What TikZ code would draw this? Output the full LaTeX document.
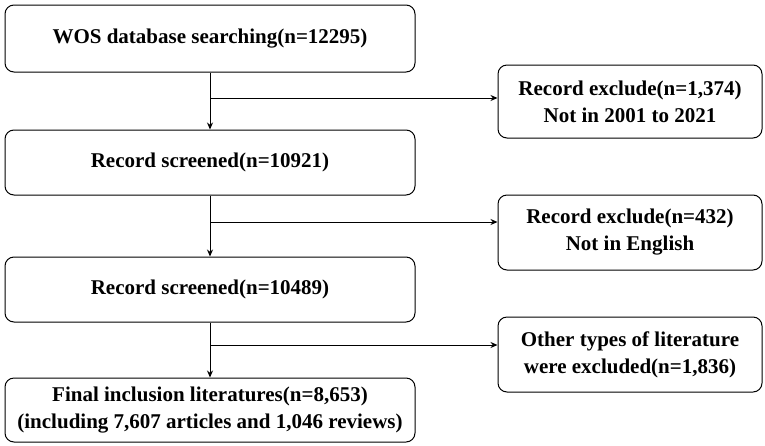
\documentclass[tikz,border=0pt]{standalone}
\usepackage{fontspec}
\setmainfont{Liberation Serif}
\usetikzlibrary{arrows.meta}
\begin{document}
\begin{tikzpicture}[x=1pt,y=-1pt,
  box/.style={draw,line width=1pt,rounded corners=9pt,align=center,font=\fontsize{21}{27}\selectfont\bfseries,inner sep=0pt},
  arr/.style={line width=1pt,-{Stealth[length=7pt,width=6pt]}}]
\useasboundingbox (0,0) rectangle (765,445);
\node[box,minimum width=410,minimum height=67] (b1) at (210,38.5) {WOS database searching(n=12295)};
\node[box,minimum width=410,minimum height=65] (b2) at (210,162.5) {Record screened(n=10921)};
\node[box,minimum width=410,minimum height=65] (b3) at (210,289.5) {Record screened(n=10489)};
\node[box,minimum width=410,minimum height=64] (b4) at (210,410) {Final inclusion literatures(n=8,653)\\(including 7,607 articles and 1,046 reviews)};
\node[box,minimum width=264,minimum height=73] (r1) at (630,101.5) {Record exclude(n=1,374)\\Not in 2001 to 2021};
\node[box,minimum width=264,minimum height=75] (r2) at (630,232.5) {Record exclude(n=432)\\Not in English};
\node[box,minimum width=264,minimum height=75] (r3) at (630,354.5) {Other types of literature\\were excluded(n=1,836)};
\draw[arr] (b1.south) -- (b2.north);
\draw[arr] (b2.south) -- (b3.north);
\draw[arr] (b3.south) -- (b4.north);
\coordinate (j1) at (210,98);
\coordinate (j2) at (210,222);
\coordinate (j3) at (210,345);
\draw[arr] (j1) -- (j1 -| r1.west);
\draw[arr] (j2) -- (j2 -| r2.west);
\draw[arr] (j3) -- (j3 -| r3.west);
\end{tikzpicture}
\end{document}
